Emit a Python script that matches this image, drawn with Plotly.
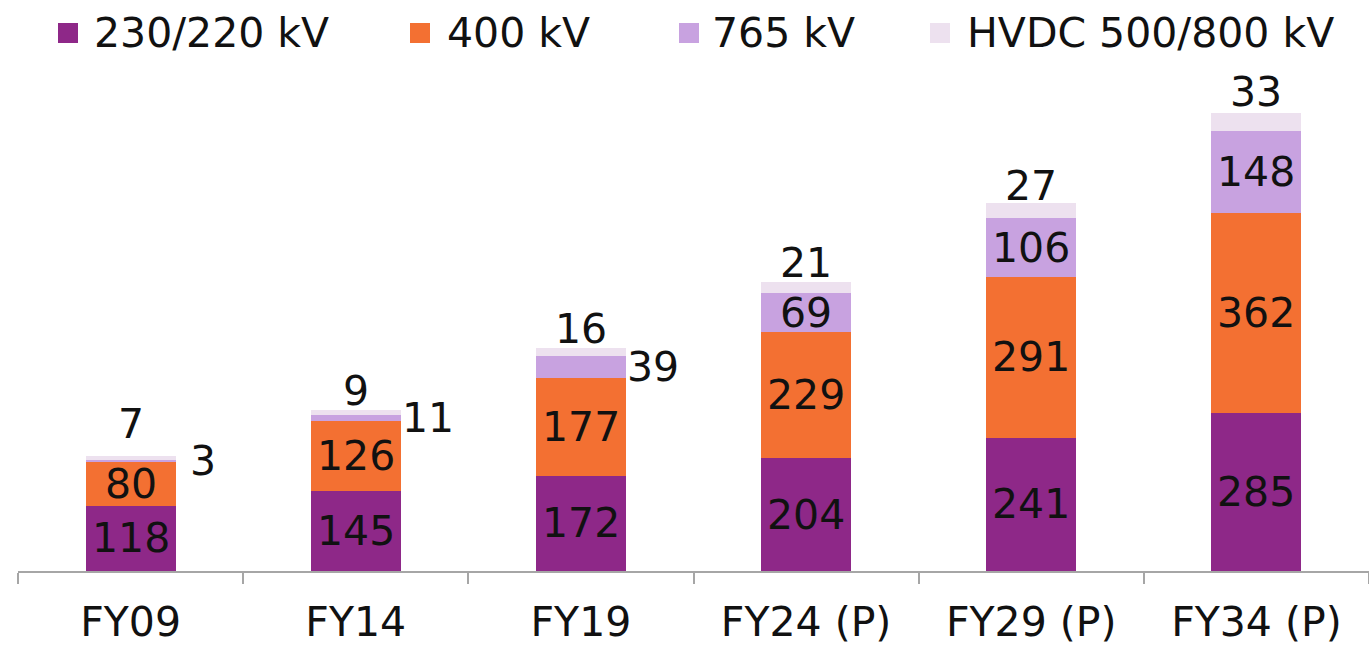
import numpy as np
import plotly.graph_objects as go

# Transmission line length by voltage class ('000 ckm)
categories = ["FY09", "FY14", "FY19", "FY24 (P)", "FY29 (P)", "FY34 (P)"]
kv_230_220 = [118, 145, 172, 204, 241, 285]
kv_400 = [80, 126, 177, 229, 291, 362]
kv_765 = [3, 11, 39, 69, 106, 148]
hvdc = [7, 9, 16, 21, 27, 33]

series_names = ["230/220 kV", "400 kV", "765 kV", "HVDC 500/800 kV"]
series_values = [kv_230_220, kv_400, kv_765, hvdc]
colors = ["#8E2888", "#F37032", "#C8A2E0", "#EDE1EF"]

FONT = "DejaVu Sans"
FS = 41
TEXT_COLOR = "#111111"

fig = go.Figure()
for name, vals, col in zip(series_names, series_values, colors):
    fig.add_trace(go.Bar(
        x=categories, y=vals, name=name,
        marker=dict(color=col, line=dict(width=0)),
        showlegend=False, hoverinfo="x+y+name",
    ))

# Value labels: inside the segment where it is tall enough,
# small 765 kV segments to the right, HVDC above the stack.
stack = np.cumsum(np.array(series_values), axis=0)
hvdc_lift = [30, 17, 17, 17, 15, 19]
for i, cat in enumerate(categories):
    for s, vals in enumerate(series_values):
        v = vals[i]
        top = stack[s][i]
        mid = top - v / 2
        if s == 3:
            fig.add_annotation(x=cat, y=top, text=str(v), showarrow=False,
                               yanchor="bottom", yshift=hvdc_lift[i] - 24,
                               font=dict(family=FONT, size=FS, color=TEXT_COLOR))
        elif s == 2 and v < 50:
            fig.add_annotation(x=cat, y=mid, text=str(v), showarrow=False,
                               xanchor="center", yanchor="middle", xshift=72,
                               font=dict(family=FONT, size=FS, color=TEXT_COLOR))
        else:
            fig.add_annotation(x=cat, y=mid, text=str(v), showarrow=False,
                               xanchor="center", yanchor="middle",
                               font=dict(family=FONT, size=FS, color=TEXT_COLOR))

# Figure geometry (pixels)
W, H = 1369, 646
M_L, M_R, M_T, M_B = 18, 0, 80, 75
PW, PH = W - M_L - M_R, H - M_T - M_B


def px_to_paper(px, py):
    return (px - M_L) / PW, (H - M_B - py) / PH


# Legend row along the top
legend_square_x = [58, 410, 679, 930]
legend_text_x = [92, 445, 710, 965]
legend_y = 33
sq = 20
for name, col, sx, tx in zip(series_names, colors, legend_square_x, legend_text_x):
    x0, y0 = px_to_paper(sx, legend_y + sq / 2)
    x1, y1 = px_to_paper(sx + sq, legend_y - sq / 2)
    fig.add_shape(type="rect", xref="paper", yref="paper",
                  x0=x0, x1=x1, y0=y0, y1=y1,
                  fillcolor=col, line=dict(width=0))
    ax, ay = px_to_paper(tx, legend_y)
    fig.add_annotation(xref="paper", yref="paper", x=ax, y=ay,
                       text=name, showarrow=False, xanchor="left", yanchor="middle",
                       font=dict(family=FONT, size=FS, color=TEXT_COLOR))

fig.update_layout(
    width=W, height=H,
    margin=dict(l=M_L, r=M_R, t=M_T, b=M_B),
    barmode="stack", bargap=0.6,
    plot_bgcolor="white", paper_bgcolor="white",
    font=dict(family=FONT, size=FS, color=TEXT_COLOR),
    showlegend=False,
)
fig.update_xaxes(
    showline=True, linecolor="#A6A6A6", linewidth=2,
    ticks="outside", tickson="boundaries", ticklen=11, tickcolor="#A6A6A6", tickwidth=2,
    tickfont=dict(family=FONT, size=FS, color=TEXT_COLOR),
    showgrid=False, range=[-0.5, 5.5], ticklabelstandoff=14,
)
fig.update_yaxes(visible=False, range=[0, 888], showgrid=False)

fig.write_html("out.html")
